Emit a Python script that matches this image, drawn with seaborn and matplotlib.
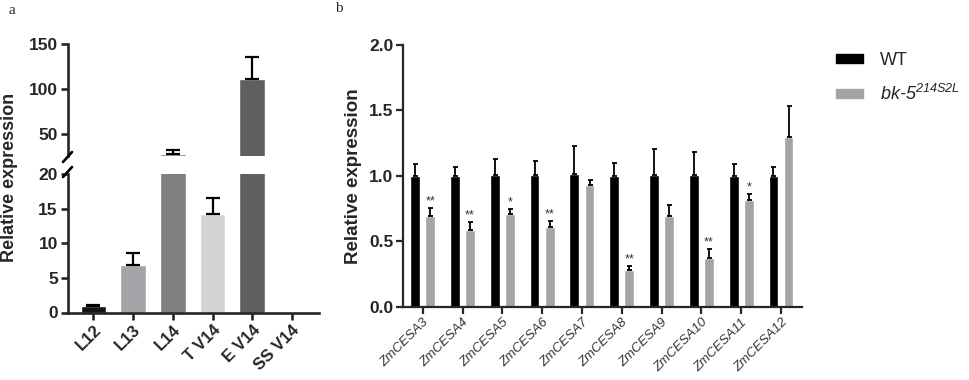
import pandas as pd
import seaborn as sns
import matplotlib.pyplot as plt
from matplotlib.lines import Line2D
from matplotlib.patches import Patch

# ---- data ----
tissues = ['L12', 'L13', 'L14', 'T V14', 'E V14', 'SS V14']
tissue_expr = [0.95, 6.8, 27.0, 14.2, 111.0, 0.0]
tissue_err = [0.15, 1.8, 4.4, 2.3, 25.0, 0.0]
tissue_colors = ['#141414', '#a3a3a8', '#808080', '#d4d4d4', '#5f5f5f', '#5f5f5f']

genes = ['ZmCESA3', 'ZmCESA4', 'ZmCESA5', 'ZmCESA6', 'ZmCESA7',
         'ZmCESA8', 'ZmCESA9', 'ZmCESA10', 'ZmCESA11', 'ZmCESA12']
wt_expr = [1.00, 1.00, 1.005, 1.005, 1.015, 1.00, 1.008, 1.008, 1.00, 1.00]
wt_err = [0.09, 0.07, 0.12, 0.105, 0.21, 0.095, 0.195, 0.175, 0.09, 0.064]
mut_expr = [0.69, 0.587, 0.708, 0.605, 0.93, 0.28, 0.69, 0.374, 0.813, 1.295]
mut_err = [0.06, 0.057, 0.04, 0.05, 0.035, 0.03, 0.087, 0.066, 0.046, 0.236]
stars = ['**', '**', '*', '**', '', '**', '', '**', '*', '']
genotypes = ['WT', 'bk-5']
genotype_colors = ['#000000', '#a4a4a8']

sns.set_style('ticks')
plt.rcParams['font.family'] = ['Liberation Sans', 'DejaVu Sans']
plt.rcParams['mathtext.fontset'] = 'custom'
plt.rcParams['mathtext.it'] = 'Liberation Sans:italic'
plt.rcParams['mathtext.rm'] = 'Liberation Sans:italic'

W, H = 969, 380
fig = plt.figure(figsize=(W / 100, H / 100), dpi=100)


def fx(px):
    return px / W


def fy(py):
    return 1 - py / H


# ---- panel a : broken y axis ----
df_a = pd.DataFrame({'tissue': tissues, 'expr': tissue_expr, 'err': tissue_err})
ax_top = fig.add_axes([fx(67.5), fy(156), fx(318.5) - fx(67.5), fy(44) - fy(156)])
ax_low = fig.add_axes([fx(67.5), fy(312.5), fx(318.5) - fx(67.5), fy(174) - fy(312.5)])

for ax in (ax_top, ax_low):
    sns.barplot(data=df_a, x='tissue', y='expr', hue='tissue', palette=tissue_colors,
                width=0.645, errorbar=None, legend=False, ax=ax, saturation=1)
    xs = [p.get_x() + p.get_width() / 2 for p in ax.patches]
    has_err = df_a['err'] > 0
    ax.errorbar([x for x, k in zip(xs, has_err) if k], df_a['expr'][has_err],
                yerr=[[0] * has_err.sum(), df_a['err'][has_err]], fmt='none',
                ecolor='black', elinewidth=1.6, capsize=4.8, capthick=1.6)
    ax.set_xlim(-0.655, 5.67)
    ax.set_xlabel('')
    ax.set_ylabel('')
    for s in ('top', 'right'):
        ax.spines[s].set_visible(False)
    for s in ('left', 'bottom'):
        ax.spines[s].set_linewidth(1.9)
    ax.tick_params(axis='both', width=1.9, length=5, labelsize=12.5, pad=2)

ax_top.set_ylim(25, 150)
ax_top.set_yticks([50, 100, 150])
ax_top.spines['bottom'].set_visible(False)
ax_top.tick_params(axis='x', bottom=False, labelbottom=False)
for lab in ax_top.get_yticklabels():
    lab.set_fontweight('bold')

ax_low.set_ylim(0, 20)
ax_low.set_yticks([0, 5, 10, 15, 20])
ax_low.set_xticks(range(len(tissues)))
ax_low.set_xticklabels(tissues, rotation=45, ha='right', rotation_mode='anchor',
                       fontsize=12, fontweight='bold')
for lab in ax_low.get_yticklabels():
    lab.set_fontweight('bold')

# break marks on the y axis
for cy in (157, 172):
    fig.add_artist(Line2D([fx(63), fx(72)], [fy(cy + 5), fy(cy - 5)],
                          color='black', lw=1.9))

fig.text(fx(10), fy(177), 'Relative expression', rotation=90, ha='center', va='center',
         fontsize=13, fontweight='bold')
fig.text(fx(12), fy(10), 'a', family=['Liberation Serif'], fontsize=11, ha='center', va='center')

# ---- panel b : grouped bars ----
df_b = pd.DataFrame({
    'gene': genes * 2,
    'genotype': [genotypes[0]] * len(genes) + [genotypes[1]] * len(genes),
    'expr': wt_expr + mut_expr,
    'err': wt_err + mut_err,
})
ax_b = fig.add_axes([fx(403), fy(306.7), fx(801.7) - fx(403), fy(44.7) - fy(306.7)])
sns.barplot(data=df_b, x='gene', y='expr', hue='genotype', palette=genotype_colors,
            width=0.76, gap=0.35, errorbar=None, ax=ax_b, saturation=1)
bar_groups = list(ax_b.containers)
for bars, g in zip(bar_groups, genotypes):
    sub = df_b[df_b['genotype'] == g]
    xs = [p.get_x() + p.get_width() / 2 for p in bars]
    ax_b.errorbar(xs, sub['expr'], yerr=[[0] * len(xs), sub['err']], fmt='none',
                  ecolor='black', elinewidth=1.3, capsize=1.8, capthick=1.3)

mut = df_b[df_b['genotype'] == genotypes[1]].reset_index(drop=True)
for p, s, v, e in zip(bar_groups[1], stars, mut['expr'], mut['err']):
    if s:
        ax_b.text(p.get_x() + p.get_width() / 2, v + e + 0.005, s, ha='center', va='bottom',
                  fontsize=9, color='#333333')

ax_b.set_xlim(-0.495, 9.52)
ax_b.set_ylim(0, 2.0)
ax_b.set_yticks([0, 0.5, 1.0, 1.5, 2.0])
ax_b.set_yticklabels(['0.0', '0.5', '1.0', '1.5', '2.0'], fontweight='bold', fontsize=12.5)
ax_b.set_xticks(range(len(genes)))
ax_b.set_xticklabels(genes, rotation=45, ha='right', rotation_mode='anchor',
                     fontsize=9.5, style='italic', color='#333333')
ax_b.set_xlabel('')
ax_b.set_ylabel('Relative expression', fontsize=13.5, fontweight='bold', labelpad=5)
for s in ('top', 'right'):
    ax_b.spines[s].set_visible(False)
for s in ('left', 'bottom'):
    ax_b.spines[s].set_linewidth(1.6)
ax_b.tick_params(axis='both', width=1.6, length=5, pad=2)

handles = [Patch(color=c) for c in genotype_colors]
leg = ax_b.legend(handles, ['WT', r'bk-5$^{\mathit{214S2L}}$'], loc='upper left',
                  bbox_to_anchor=(fx(836), fy(52)), bbox_transform=fig.transFigure,
                  frameon=False, fontsize=13, handlelength=1.5, handleheight=0.39,
                  handletextpad=0.95, labelspacing=0.85, borderpad=0, borderaxespad=0)
leg.get_texts()[1].set_style('italic')

fig.text(fx(339), fy(9), 'b', family=['Liberation Serif'], fontsize=11, ha='center', va='center')

plt.savefig('out.png', dpi=100)
plt.close()
